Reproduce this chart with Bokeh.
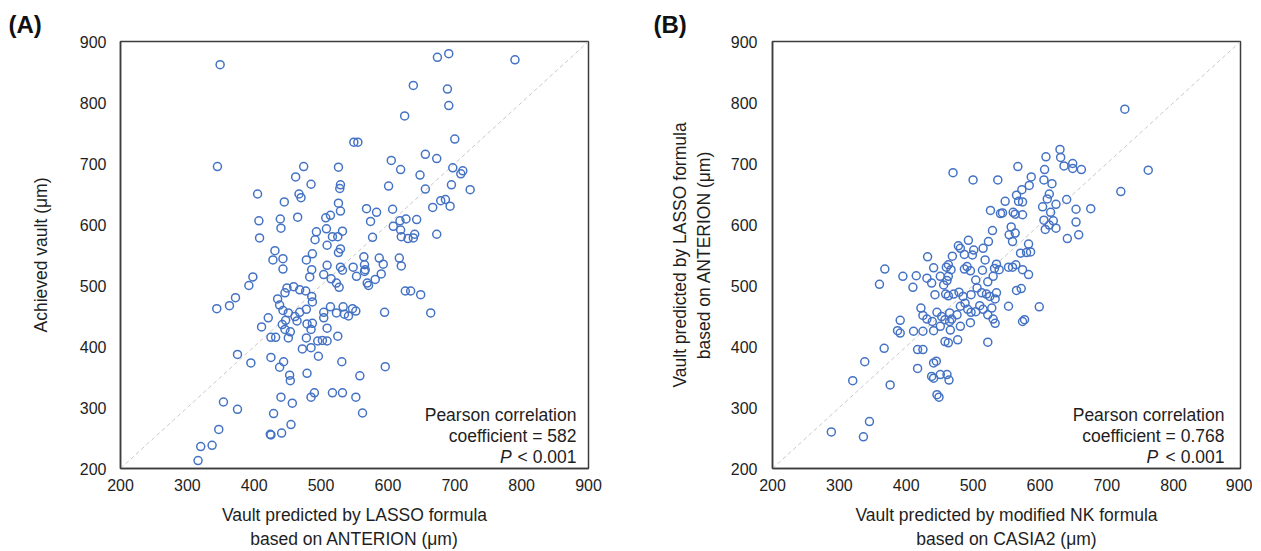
from bokeh.plotting import figure
from bokeh.layouts import row
from bokeh.models import Label, Range1d, FixedTicker
from bokeh.embed import file_html
from bokeh.resources import INLINE

# ---------------- data ----------------
ticks = [200, 300, 400, 500, 600, 700, 800, 900]

# Panel A: predicted (LASSO, ANTERION) vs achieved vault
a_x = [349, 345, 549, 555, 474, 462, 526, 485, 405, 445, 467, 470, 529, 528, 526, 529, 465, 407, 439, 440,
       408, 507, 514, 568, 583, 574, 493, 491, 508, 517, 525, 532, 509, 577, 529, 526, 487, 478, 431, 428,
       443, 443, 486, 509, 529, 532, 548, 564, 565, 566,
       674, 691, 790, 638, 689, 691, 625, 700, 605, 619, 656, 673, 648, 697, 709, 712, 601, 656, 695, 723,
       667, 679, 686, 693, 607, 608, 618, 627, 643, 619, 620, 630, 638, 640, 673, 587, 593, 590, 617, 620,
       398, 392, 344, 363, 372, 435, 438, 446, 449, 459, 468, 477, 486, 487, 478, 483, 504, 515, 527, 523,
       553, 565, 571, 569, 581, 443, 451, 447, 461, 464, 468, 442, 446, 454, 451, 421, 411, 425, 432,
       479, 487, 485, 478, 472, 485, 496, 504, 504, 514, 523, 533, 535, 541, 547, 552, 509, 525, 495, 502, 509,
       531, 375, 395, 425, 438, 444, 453, 454, 479, 440, 457, 485, 490, 517, 532, 552, 562, 558, 429,
       354, 375, 347, 424, 425, 441, 455, 320, 337, 316,
       626, 634, 649, 595, 664, 596]
a_y = [862, 695, 735, 735, 695, 678, 694, 666, 650, 637, 650, 644, 665, 659, 635, 622, 612, 606, 609, 594,
       578, 611, 615, 626, 620, 605, 588, 575, 593, 580, 580, 589, 566, 579, 560, 554, 552, 542, 557, 542,
       544, 527, 526, 533, 530, 525, 530, 547, 534, 526,
       874, 880, 870, 828, 822, 795, 778, 740, 705, 690, 715, 708, 681, 693, 683, 688, 663, 658, 665, 657,
       628, 639, 641, 630, 625, 597, 606, 609, 608, 591, 580, 577, 578, 584, 584, 545, 535, 519, 545, 532,
       514, 500, 462, 467, 480, 478, 468, 488, 496, 498, 493, 491, 482, 473, 461, 514, 518, 511, 497, 504,
       515, 523, 500, 504, 510, 459, 455, 443, 449, 442, 456, 436, 428, 424, 414, 447, 432, 415, 415,
       437, 438, 428, 414, 396, 398, 384, 456, 447, 465, 455, 465, 453, 450, 462, 458, 430, 417, 409, 410, 409,
       375, 387, 373, 382, 366, 375, 353, 344, 356, 317, 307, 317, 324, 324, 324, 317, 291, 352, 290,
       309, 297, 264, 256, 255, 258, 272, 236, 238, 213,
       491, 491, 485, 456, 455, 367]

# Panel B: modified NK (CASIA2) vs LASSO (ANTERION)
b_x = [470, 500, 537, 548, 526, 541, 544, 529, 523, 493, 478, 481, 487, 499, 501, 515,
       469, 432, 441, 460, 463, 467, 518, 535, 532, 539, 553, 487, 491, 496, 514, 368,
       395, 415, 431, 451, 463,
       727, 762, 721, 630, 631, 636, 649, 649, 662, 609, 607, 606, 618, 567, 587, 584, 573, 565, 568, 574,
       614, 611, 640, 624, 604, 616, 606, 608, 620, 624, 614, 654, 676, 654, 641, 658, 560, 563, 574,
       557, 554, 563, 559, 583, 571, 580, 586, 559, 564, 574, 583,
       360, 410, 438, 443, 461, 456, 459, 463, 471, 479, 485, 488, 497, 506, 513, 520, 525, 533, 535,
       522, 504, 530, 553,
       422, 425, 431, 439, 446, 453, 458, 465, 465, 468, 476, 481, 492, 497, 504, 510, 515, 522, 528, 530,
       533, 522, 458, 463, 477, 496, 481, 466, 451, 441, 425, 411, 391, 387, 391, 367, 338, 320, 376, 417,
       425, 417, 441, 445, 438, 441, 451, 461, 464, 446, 449, 345, 288, 336,
       565, 572, 599, 577, 574]
b_y = [685, 673, 673, 638, 623, 618, 619, 590, 572, 574, 565, 561, 551, 550, 558, 561,
       548, 547, 529, 530, 534, 526, 542, 535, 528, 526, 530, 527, 531, 524, 525, 527,
       515, 516, 512, 515, 515,
       789, 689, 654, 723, 710, 696, 700, 692, 690, 711, 690, 673, 667, 695, 678, 664, 657, 648, 638, 637,
       650, 642, 641, 633, 629, 620, 607, 592, 606, 594, 599, 625, 626, 604, 577, 583, 620, 617, 616,
       596, 583, 586, 572, 568, 553, 554, 555, 530, 534, 526, 518,
       502, 497, 504, 485, 508, 501, 486, 483, 486, 489, 482, 471, 485, 496, 488, 486, 482, 478, 488,
       506, 509, 515, 466,
       463, 451, 445, 441, 456, 449, 444, 455, 441, 445, 452, 466, 461, 456, 457, 467, 461, 452, 463, 445,
       438, 407, 408, 406, 411, 439, 433, 427, 433, 426, 425, 425, 443, 426, 422, 397, 375, 344, 337, 395,
       395, 364, 373, 376, 351, 348, 354, 354, 345, 321, 317, 277, 260, 252,
       492, 495, 465, 444, 441]

FONT = "Liberation Sans"
BLUE = "#4472C4"
TXT = "#1e1e1e"
EDGE = "#3c3c3c"


def make_panel(xs, ys, xlabel, ylabel, coef_text, tag, width, left, right,
               ylab_standoff, ytick_standoff, txt_x, p_x, tag_offset):
    p = figure(width=width, height=551,
               x_range=Range1d(ticks[0], ticks[-1]), y_range=Range1d(ticks[0], ticks[-1]),
               output_backend="svg", toolbar_location=None,
               min_border_left=left, min_border_right=right,
               min_border_top=41, min_border_bottom=82)
    p.grid.visible = False
    p.background_fill_color = "white"
    p.border_fill_color = "white"
    p.outline_line_color = EDGE
    p.outline_line_width = 1.5
    for ax in (p.xaxis[0], p.yaxis[0]):
        ax.ticker = FixedTicker(ticks=ticks)
        ax.major_tick_line_color = None
        ax.minor_tick_line_color = None
        ax.major_tick_out = 0
        ax.major_tick_in = 0
        ax.axis_line_color = EDGE
        ax.axis_line_width = 1.5
        ax.major_label_text_font = FONT
        ax.major_label_text_font_size = "16px"
        ax.major_label_text_color = TXT
        ax.axis_label_text_font = FONT
        ax.axis_label_text_font_size = "17.5px"
        ax.axis_label_text_font_style = "normal"
        ax.axis_label_text_color = TXT
    p.xaxis[0].axis_label = xlabel
    p.yaxis[0].axis_label = ylabel
    p.xaxis[0].major_label_standoff = 10
    p.yaxis[0].major_label_standoff = ytick_standoff
    p.xaxis[0].axis_label_standoff = 11
    p.yaxis[0].axis_label_standoff = ylab_standoff

    # panel tag as a title shifted to the left edge of the figure
    p.title.text = tag
    p.title.align = "left"
    p.title.offset = tag_offset
    p.title.standoff = 8
    p.title.text_font = FONT
    p.title.text_font_size = "24px"
    p.title.text_font_style = "bold"
    p.title.text_color = "#111111"

    # identity reference line
    p.line([ticks[0], ticks[-1]], [ticks[0], ticks[-1]], line_color="#c8c8c8",
           line_width=1, line_dash="4 3")

    p.scatter(xs, ys, marker="circle", size=8, fill_color=None,
              line_color=BLUE, line_width=1.5)

    p.add_layout(Label(x=txt_x, y=288, text="Pearson correlation", text_align="right",
                       text_baseline="alphabetic", text_font=FONT, text_font_size="17.5px",
                       text_color=TXT))
    p.add_layout(Label(x=txt_x, y=253, text=coef_text, text_align="right",
                       text_baseline="alphabetic", text_font=FONT, text_font_size="17.5px",
                       text_color=TXT))
    p.add_layout(Label(x=txt_x, y=218.5, text="< 0.001", text_align="right",
                       text_baseline="alphabetic", text_font=FONT, text_font_size="17.5px",
                       text_color=TXT))
    p.add_layout(Label(x=p_x, y=218.5, text="P", text_align="right",
                       text_baseline="alphabetic", text_font=FONT, text_font_size="17.5px",
                       text_font_style="italic", text_color=TXT))
    return p


pA = make_panel(a_x, a_y,
                "Vault predicted by LASSO formula\nbased on ANTERION (μm)",
                "Achieved vault (μm)",
                "coefficient = 582", "(A)",
                width=648, left=120, right=60,
                ylab_standoff=26, ytick_standoff=14,
                txt_x=882, p_x=785, tag_offset=-112)

pB = make_panel(b_x, b_y,
                "Vault predicted by modified NK formula\nbased on CASIA2 (μm)",
                "Vault predicted by LASSO formula\nbased on ANTERION (μm)",
                "coefficient = 0.768", "(B)",
                width=604, left=124, right=12,
                ylab_standoff=14, ytick_standoff=15,
                txt_x=876, p_x=777, tag_offset=-119)

layout = row(pA, pB)
open("out.html", "w").write(file_html(layout, INLINE))
